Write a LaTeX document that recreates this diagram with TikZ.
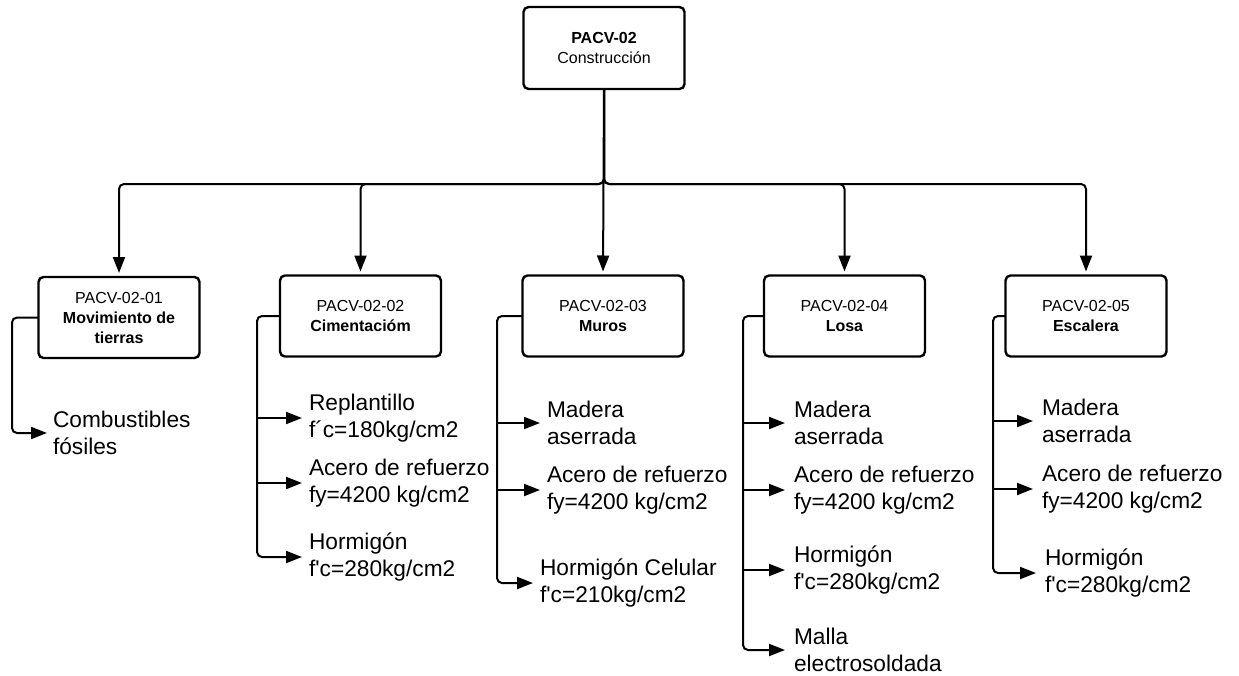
\documentclass[tikz,border=0pt]{standalone}
\usepackage{fontspec}
\newfontfamily\lsans{Liberation Sans}
\usetikzlibrary{arrows.meta}
\begin{document}
\begin{tikzpicture}[x=1pt,y=-1pt,
  box/.style={draw, line width=2.4pt, rounded corners=5pt, minimum width=161pt,
    minimum height=81pt, align=center, inner sep=0pt, outer sep=0pt,
    font=\lsans\fontsize{16}{20}\selectfont},
  item/.style={anchor=west, align=left, inner xsep=7pt, inner ysep=0pt, outer sep=0pt,
    font=\lsans\fontsize{22.7}{27}\selectfont},
  conn/.style={line width=2pt, rounded corners=5pt},
  arr/.style={conn, -{Triangle[length=16pt,width=12pt]}},
  down/.style={arr, shorten >=4pt},
]
\useasboundingbox (0,0) rectangle (1239,675);

% root and work packages
\node[box, minimum height=82pt] (top) at (604,48) {\textbf{PACV-02}\\Construcción};
\node[box] (b1) at (119,317.5) {PACV-02-01\\\textbf{Movimiento de}\\\textbf{tierras}};
\node[box] (b2) at (360.5,316) {PACV-02-02\\\textbf{Cimentacióm}};
\node[box] (b3) at (603,316) {PACV-02-03\\\textbf{Muros}};
\node[box] (b4) at (844.5,316) {PACV-02-04\\\textbf{Losa}};
\node[box] (b5) at (1086,316) {PACV-02-05\\\textbf{Escalera}};

% distribution bus
\coordinate (bus) at (604,184);
\draw[down] (top.south) -- (bus) -| (b1.north);
\draw[down] (top.south) -- (bus) -| (b2.north);
\draw[down] (top.south) -- (b3.north);
\draw[down] (top.south) -- (bus) -| (b4.north);
\draw[down] (top.south) -- (bus) -| (b5.north);

% spines of the side lists
\coordinate (s1) at (12,0);
\coordinate (s2) at (257,0);
\coordinate (s3) at (497,0);
\coordinate (s4) at (743,0);
\coordinate (s5) at (993,0);

% items
\node[item, inner xsep=6pt] (i11) at (47,433) {Combustibles\\fósiles};

\node[item] (i21) at (302,418) {Replantillo\\f´c=180kg/cm2};
\node[item] (i22) at (302,483) {Acero de refuerzo\\fy=4200 kg/cm2};
\node[item] (i23) at (302,557) {Hormigón\\f'c=280kg/cm2};

\node[item] (i31) at (540,423) {Madera\\aserrada};
\node[item] (i32) at (540,490) {Acero de refuerzo\\fy=4200 kg/cm2};
\node[item] (i33) at (533,583) {Hormigón Celular\\f'c=210kg/cm2};

\node[item, inner xsep=9pt] (i41) at (785,423) {Madera\\aserrada};
\node[item, inner xsep=9pt] (i42) at (785,490) {Acero de refuerzo\\fy=4200 kg/cm2};
\node[item, inner xsep=9pt] (i43) at (785,570) {Hormigón\\f'c=280kg/cm2};
\node[item, inner xsep=9pt] (i44) at (785,650) {Malla\\electrosoldada};

\node[item, inner xsep=9pt] (i51) at (1033,421) {Madera\\aserrada};
\node[item, inner xsep=9pt] (i52) at (1033,489) {Acero de refuerzo\\fy=4200 kg/cm2};
\node[item, inner xsep=9pt] (i53) at (1036,573) {Hormigón\\f'c=280kg/cm2};

% side connectors
\draw[arr] (b1.west) -- (b1.west -| s1) |- (i11.west);

\draw[arr] (b2.west) -- (b2.west -| s2) |- (i23.west);
\draw[arr] (i21.west -| s2) -- (i21.west);
\draw[arr] (i22.west -| s2) -- (i22.west);

\draw[arr] (b3.west) -- (b3.west -| s3) |- (i33.west);
\draw[arr] (i31.west -| s3) -- (i31.west);
\draw[arr] (i32.west -| s3) -- (i32.west);

\draw[arr] (b4.west) -- (b4.west -| s4) |- (i44.west);
\draw[arr] (i41.west -| s4) -- (i41.west);
\draw[arr] (i42.west -| s4) -- (i42.west);
\draw[arr] (i43.west -| s4) -- (i43.west);

\draw[arr] (b5.west) -- (b5.west -| s5) |- (i53.west);
\draw[arr] (i51.west -| s5) -- (i51.west);
\draw[arr] (i52.west -| s5) -- (i52.west);
\end{tikzpicture}
\end{document}
